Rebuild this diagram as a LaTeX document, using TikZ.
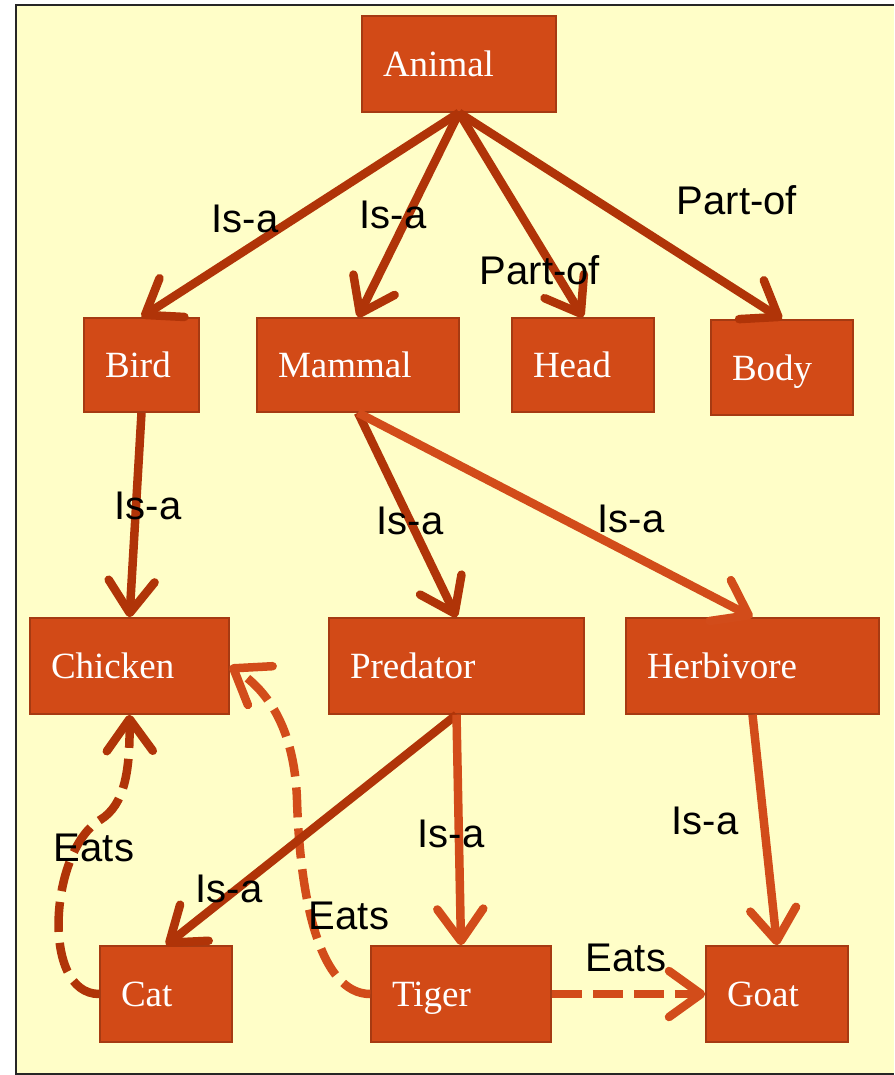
\documentclass[tikz,border=0pt]{standalone}
\usepackage{fontspec}
\setmainfont{Liberation Serif}
\newfontfamily\labelfont{Liberation Sans}
\usetikzlibrary{arrows.meta}
\definecolor{paper}{RGB}{255,254,200}
\definecolor{boxfill}{RGB}{210,74,23}
\definecolor{boxedge}{RGB}{166,58,18}
\definecolor{linkdark}{RGB}{176,52,8}
\definecolor{linklight}{RGB}{210,76,26}
\begin{document}
\begin{tikzpicture}[x=1pt,y=-1pt,
  box/.style={draw=boxedge, line width=1.5pt, fill=boxfill, text=white,
    font=\fontsize{37}{40}\selectfont, inner xsep=21pt, inner ysep=0pt,
    align=left, text height=25pt, text depth=0pt},
  lab/.style={font=\labelfont\fontsize{40}{44}\selectfont, inner sep=0pt,
    text height=29pt, text depth=0pt},
  link/.style={line width=8.5pt, -{Straight Barb[length=32pt,width=46pt,round]}},
  dark/.style={link, draw=linkdark},
  light/.style={link, draw=linklight},
  eats/.style={dash pattern=on 30pt off 11pt}
]
\useasboundingbox (0,0) rectangle (894,1075);
% page and frame
\fill[white] (0,0) rectangle (894,1075);
\fill[paper] (16,5) rectangle (894,1074);
\draw[line width=2pt, black!85] (894,5) -- (16,5) -- (16,1074) -- (894,1074);

% concepts
\node[box, text width=152pt, minimum height=96pt] (animal) at (459,64) {Animal};
\node[box, text width=73pt, minimum height=94pt] (bird) at (141.5,365) {Bird};
\node[box, text width=160pt, minimum height=94pt] (mammal) at (358,365) {Mammal};
\node[box, text width=100pt, minimum height=94pt] (head) at (583,365) {Head};
\node[box, text width=100pt, minimum height=95pt] (body) at (782,367.5) {Body};
\node[box, text width=157pt, minimum height=96pt] (chicken) at (129.5,666) {Chicken};
\node[box, text width=213pt, minimum height=96pt] (predator) at (456.5,666) {Predator};
\node[box, text width=211pt, minimum height=96pt] (herbivore) at (752.5,666) {Herbivore};
\node[box, text width=90pt, minimum height=96pt] (cat) at (166,994) {Cat};
\node[box, text width=138pt, minimum height=96pt] (tiger) at (461,994) {Tiger};
\node[box, text width=100pt, minimum height=96pt] (goat) at (777,994) {Goat};

% eats relations
\draw[dark, eats] (cat.west) .. controls (40,994) and (50,850) .. (100,820)
  .. controls (125,805) and (130,770) .. (chicken.south);
\draw[light, eats] (tiger.west) .. controls (320,994) and (300,900) .. (297,800)
  .. controls (295,740) and (275,695) .. (chicken.east);
\draw[light, eats] (tiger.east) -- (goat.west);

% is-a and part-of relations
\draw[dark] (animal.south) -- (bird.north);
\draw[dark] (animal.south) -- (mammal.north);
\draw[dark] (animal.south) -- (head.north);
\draw[dark] (animal.south) -- (body.north);
\draw[dark] (bird.south) -- (chicken.north);
\draw[dark] (mammal.south) -- (predator.north);
\draw[light] (mammal.south) -- (herbivore.north);
\draw[dark] (predator.south) -- (cat.north);
\draw[light] (predator.south) -- (tiger.north);
\draw[light] (herbivore.south) -- (goat.north);

% relation labels
\node[lab] (lbird) at (245,218) {Is-a};
\node[lab] (lmammal) at (393,214) {Is-a};
\node[lab] (lhead) at (540,270) {Part-of};
\node[lab] (lbody) at (737,200) {Part-of};
\node[lab] (lchicken) at (148,505) {Is-a};
\node[lab] (lpredator) at (410,520) {Is-a};
\node[lab] (lherbivore) at (631,518) {Is-a};
\node[lab] (lcateats) at (94,847) {Eats};
\node[lab] (lcat) at (229,888) {Is-a};
\node[lab] (ltigereats) at (349,915) {Eats};
\node[lab] (ltiger) at (451,833) {Is-a};
\node[lab] (lgoat) at (705,820) {Is-a};
\node[lab] (lgoateats) at (626,957) {Eats};
\end{tikzpicture}
\end{document}
